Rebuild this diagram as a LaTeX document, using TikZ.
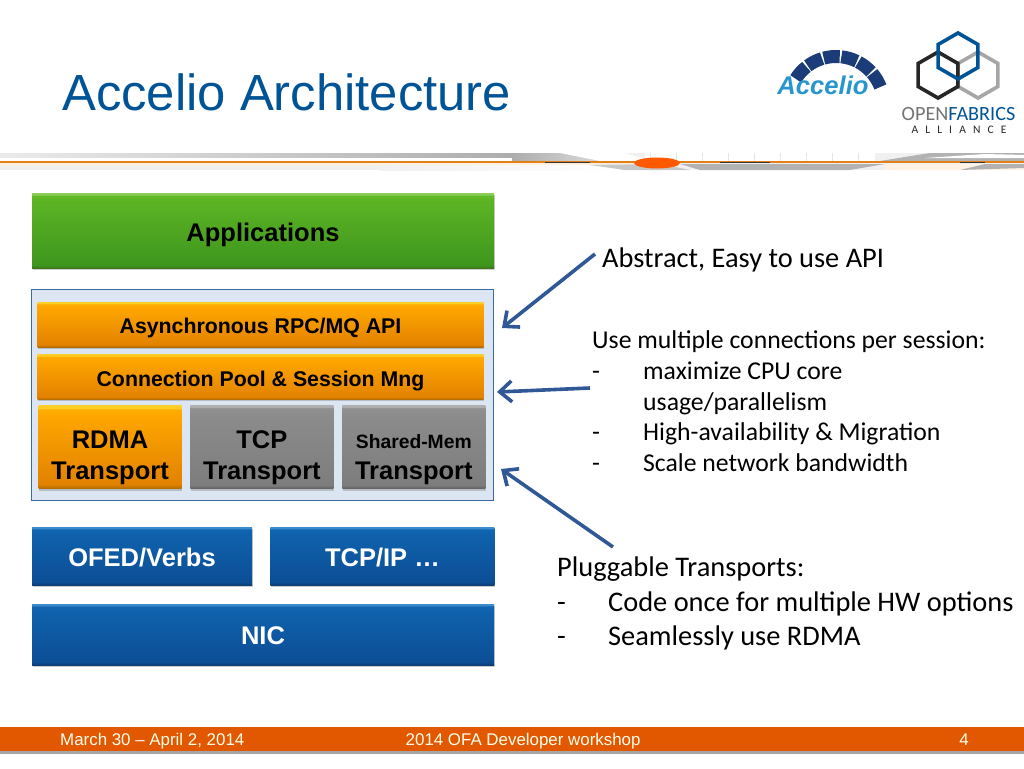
\documentclass[tikz,border=0pt]{standalone}
\usepackage{fontspec}
\usepackage{array}
\setmainfont{Liberation Sans}
\newfontfamily\bodyfont{Carlito}
\newfontfamily\spacedfont[LetterSpace=62]{Carlito}
\usetikzlibrary{shadows,positioning,arrows.meta}
\definecolor{titleblue}{RGB}{0, 84, 150}
\definecolor{barorange}{RGB}{226, 88, 0}
\definecolor{arrowblue}{RGB}{49, 88, 150}
\definecolor{navy}{RGB}{27, 60, 120}
\definecolor{cyanlogo}{RGB}{40, 150, 205}
\definecolor{panelblue}{RGB}{220, 230, 242}
\definecolor{paneledge}{RGB}{60, 105, 160}
% shadings: tikz maps the path onto 25bp..75bp
\pgfdeclareverticalshading{greenshade}{100bp}{color(0bp)=(rgb,255:red,60;green,120;blue,24); color(25bp)=(rgb,255:red,60;green,120;blue,24); color(27bp)=(rgb,255:red,62;green,150;blue,30); color(70bp)=(rgb,255:red,92;green,180;blue,36); color(73bp)=(rgb,255:red,98;green,186;blue,40); color(74bp)=(rgb,255:red,140;green,205;blue,90); color(100bp)=(rgb,255:red,140;green,205;blue,90)}
\pgfdeclareverticalshading{orangeshade}{100bp}{color(0bp)=(rgb,255:red,176;green,106;blue,0); color(25bp)=(rgb,255:red,176;green,106;blue,0); color(27.5bp)=(rgb,255:red,226;green,130;blue,0); color(69bp)=(rgb,255:red,255;green,166;blue,0); color(72.5bp)=(rgb,255:red,255;green,172;blue,0); color(73.5bp)=(rgb,255:red,255;green,205;blue,40); color(100bp)=(rgb,255:red,255;green,205;blue,40)}
\pgfdeclareverticalshading{grayshade}{100bp}{color(0bp)=(rgb,255:red,95;green,95;blue,95); color(25bp)=(rgb,255:red,95;green,95;blue,95); color(27bp)=(rgb,255:red,125;green,125;blue,125); color(70bp)=(rgb,255:red,140;green,140;blue,140); color(73.5bp)=(rgb,255:red,145;green,145;blue,145); color(74bp)=(rgb,255:red,175;green,175;blue,175); color(100bp)=(rgb,255:red,175;green,175;blue,175)}
\pgfdeclareverticalshading{blueshade}{100bp}{color(0bp)=(rgb,255:red,10;green,62;blue,118); color(25bp)=(rgb,255:red,10;green,62;blue,118); color(27.5bp)=(rgb,255:red,12;green,78;blue,150); color(70bp)=(rgb,255:red,15;green,98;blue,172); color(73bp)=(rgb,255:red,18;green,102;blue,178); color(74bp)=(rgb,255:red,60;green,140;blue,205); color(100bp)=(rgb,255:red,60;green,140;blue,205)}
\tikzstyle{box} = [draw=none, text=black, align=center, font=\bfseries\fontsize{25.5}{31}\selectfont, inner sep=0pt, drop shadow={shadow xshift=0.5pt, shadow yshift=-2pt, opacity=.4}]
\tikzstyle{greenbar} = [box, shading=greenshade, minimum width=462pt, minimum height=75pt]
\tikzstyle{orangebar} = [box, shading=orangeshade, minimum width=446pt, minimum height=45pt, font=\bfseries\fontsize{21.3}{25}\selectfont]
\tikzstyle{transport} = [box, minimum width=143pt, minimum height=83pt]
\tikzstyle{orangecell} = [transport, shading=orangeshade]
\tikzstyle{graycell} = [transport, shading=grayshade]
\tikzstyle{bluebar} = [box, text=white, shading=blueshade, minimum height=58pt]
\tikzstyle{note} = [anchor=north west, inner sep=0pt, align=left, font=\bodyfont]
\tikzstyle{pointer} = [draw=arrowblue, line width=3.6pt, -{Straight Barb[length=12pt,width=21pt,line width=3.6pt]}]
\tikzstyle{foot} = [text=white!92!yellow, font=\fontsize{16.9}{20}\selectfont, inner sep=0pt]
\tikzstyle{hexline} = [line width=3.6pt, line join=miter]
\newcolumntype{D}{@{}p{51pt}@{}}
\newcommand{\lowstrut}[1]{\rule{0pt}{#1pt}}
\begin{document}
\begin{tikzpicture}[x=1pt,y=-1pt]
\useasboundingbox (0,0) rectangle (1024,768);

% title ==================================
\node[inner sep=0pt, anchor=west, text=titleblue, font=\fontsize{50.8}{60}\selectfont] (title) at (62,92) {Accelio Architecture};

% header rule
\fill[black!6] (0,153) rectangle (1024,170);
\shade[left color=black!8, right color=black!32] (0,153) rectangle (512,158);
\fill[white] (0,158) rectangle (512,160.5);
\fill[orange!12] (0,163) rectangle (640,165.5);
\shade[left color=black!32, right color=black!10] (512,153) rectangle (625,161);
\fill[white] (560,153) -- (625,153) -- (650,161) -- (600,161) -- cycle;
\fill[white] (645,153) rectangle (875,161);
\foreach \x in {650,676,702,728,754,780,806,832,858} {
  \draw[black!10, line width=0.7pt] (\x,153) -- (\x,161);
}
\fill[black!30] (880,161) -- (930,153) -- (1024,153) -- (1024,161) -- cycle;
\fill[white] (925,158) -- (985,154) -- (1024,155) -- (1024,158) -- cycle;
\shade[left color=black!6, right color=white] (380,165.5) rectangle (620,170);
\fill[black!22] (590,165) -- (660,164) -- (690,170) -- (625,170) -- cycle;
\fill[black!30] (680,164) -- (885,164) -- (850,170) -- (700,170) -- cycle;
\fill[orange!10] (885,164) rectangle (1024,170);
\fill[black!30] (960,170) -- (985,164) -- (1024,164) -- (1024,168) -- cycle;
\draw[orange!60!brown, line width=1.6pt] (0,162) -- (1024,162);
\fill[orange!70!red] (657,163) ellipse [x radius=23, y radius=5.5];
\draw[black!80, line width=1.2pt] (545,162.5) -- (590,162.5) (720,162.5) -- (770,162.5) (960,162.5) -- (985,162.5);

% logos
\foreach \a in {212,233.5,255,276.5,298,319.5} {
  \draw[navy, line width=13pt] (836,104) ++(\a:47.5) arc[start angle=\a, delta angle=19.5, radius=47.5];
}
\node[inner sep=0pt, text=cyanlogo, font=\bfseries\itshape\fontsize{25.6}{30}\selectfont] (accelio) at (823,85) {Accelio};
\draw[hexline, black!35] (978,75) +(90:23) -- +(150:23) -- +(210:23) -- +(270:23) -- +(330:23) -- +(30:23) -- cycle;
\draw[hexline, black!85] (938,75) +(90:23) -- +(150:23) -- +(210:23) -- +(270:23) -- +(330:23) -- +(30:23) -- cycle;
\draw[hexline, titleblue] (958,56) +(90:23) -- +(150:23) -- +(210:23) -- +(270:23) -- +(330:23) -- +(30:23) -- cycle;
\node[inner sep=0pt, font=\bodyfont\fontsize{20.2}{24}\selectfont] (ofa) at (958.5,114) {\textcolor{black!55}{OPEN}\textcolor{titleblue}{FABRICS}};
\node[inner sep=0pt, font=\spacedfont\fontsize{11.5}{14}\selectfont, text=black!85] (alliance) at (959,130) {ALLIANCE};

% boxes ==================================
\node[greenbar] (apps) at (263,230.5) {\lowstrut{27}Applications};
\draw[draw=paneledge, fill=panelblue, line width=1pt] (31.5,289.5) rectangle (493.5,500);
\node[orangebar] (async) at (260.5,324.5) {\lowstrut{21.5}Asynchronous RPC/MQ API};
\node[orangebar, below=7pt of async] (pool) {\lowstrut{24}Connection Pool \& Session Mng};
\node[orangecell] (rdma) at (110,447) {\lowstrut{40}RDMA\\Transport};
\node[graycell, right=8.5pt of rdma] (tcp) {\lowstrut{40}TCP\\Transport};
\node[graycell, right=8.5pt of tcp] (shm) {\lowstrut{40}{\fontsize{19.3}{29}\selectfont Shared-Mem}\\Transport};
\node[bluebar, minimum width=220pt] (ofed) at (142,556) {\lowstrut{21}OFED/Verbs};
\node[bluebar, minimum width=224pt, right=18pt of ofed] (tcpip) {\lowstrut{21}TCP/IP \dots};
\node[bluebar, minimum width=462pt, minimum height=61pt] (nic) at (263,634.5) {\lowstrut{20}NIC};

% notes ==================================
\node[note, font=\bodyfont\fontsize{28.4}{34}\selectfont, anchor=west] (api) at (602,260) {Abstract, Easy to use API};
\node[note, font=\bodyfont\fontsize{25.7}{30.7}\selectfont] (conn) at (592,327) {%
\begin{tabular}{D@{}l@{}}
\multicolumn{2}{@{}l@{}}{Use multiple connections per session:}\\
-&maximize CPU core\\
&usage/parallelism\\
-&High-availability \& Migration\\
-&Scale network bandwidth
\end{tabular}};
\node[note, font=\bodyfont\fontsize{28.4}{34.5}\selectfont] (plug) at (557,552.5) {%
\begin{tabular}{D@{}l@{}}
\multicolumn{2}{@{}l@{}}{Pluggable Transports:}\\
-&Code once for multiple HW options\\
-&Seamlessly use RDMA
\end{tabular}};

% pointer edges
\coordinate (apiend) at (595,254);
\coordinate (apitip) at (502,328);
\coordinate (connend) at (590,388);
\coordinate (conntip) at (497,392);
\coordinate (plugend) at (613,547);
\coordinate (plugtip) at (501,469);
\draw[pointer] (apiend) -- (apitip);
\draw[pointer] (connend) -- (conntip);
\draw[pointer] (plugend) -- (plugtip);

% footer
\fill[black!35] (0,751) rectangle (1024,754);
\fill[barorange] (0,727) rectangle (1024,751);
\node[foot, anchor=west] (date) at (60,741) {March 30 -- April 2, 2014};
\node[foot, anchor=west] (event) at (405.5,741) {2014 OFA Developer workshop};
\node[foot] (page) at (964,740) {4};

\end{tikzpicture}
\end{document}
